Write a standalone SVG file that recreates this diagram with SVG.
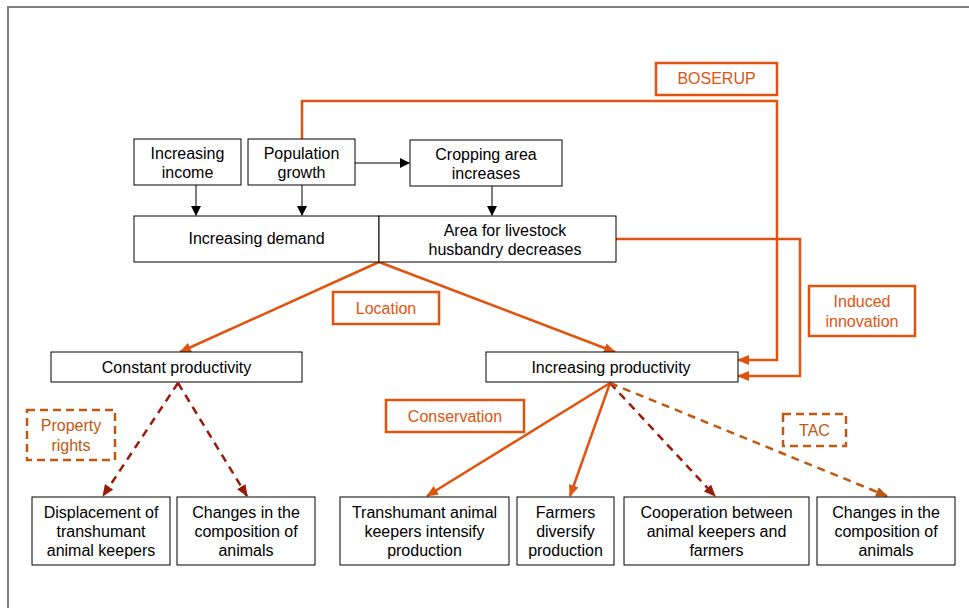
<svg xmlns="http://www.w3.org/2000/svg" width="969" height="608" viewBox="0 0 969 608">
<defs>
<style>
.box{fill:#fff;stroke:#000;stroke-width:1}
.lbl{fill:#fff;stroke:#E0540F;stroke-width:2.5}
.dlbl{fill:#fff;stroke:#C0580F;stroke-width:2.5;stroke-dasharray:8,5}
.t{font-family:"Liberation Sans",Arial,sans-serif;font-size:16px;fill:#000;text-anchor:middle}
.ot{font-family:"Liberation Sans",Arial,sans-serif;font-size:16px;fill:#E0540F;text-anchor:middle}
.dt{font-family:"Liberation Sans",Arial,sans-serif;font-size:16px;fill:#C0580F;text-anchor:middle}
.k{fill:none;stroke:#000;stroke-width:1}
.o{fill:none;stroke:#E0540F;stroke-width:2.5}
.r{fill:none;stroke:#9A1A08;stroke-width:2.5;stroke-dasharray:8,6}
.b{fill:none;stroke:#C0580F;stroke-width:2.5;stroke-dasharray:8,6}
</style>
<marker id="ak" markerUnits="userSpaceOnUse" markerWidth="10" markerHeight="10" refX="9" refY="5" orient="auto"><path d="M0,0 L10,5 L0,10 z" fill="#000"/></marker>
<marker id="ao" markerUnits="userSpaceOnUse" markerWidth="12" markerHeight="10" refX="11" refY="5" orient="auto"><path d="M0,0 L12,5 L0,10 z" fill="#E0540F"/></marker>
<marker id="ar" markerUnits="userSpaceOnUse" markerWidth="12" markerHeight="10" refX="11" refY="5" orient="auto"><path d="M0,0 L12,5 L0,10 z" fill="#9A1A08"/></marker>
<marker id="ab" markerUnits="userSpaceOnUse" markerWidth="12" markerHeight="10" refX="11" refY="5" orient="auto"><path d="M0,0 L12,5 L0,10 z" fill="#C0580F"/></marker>
</defs>
<rect width="969" height="608" fill="#fff"/>
<path d="M8,608 L8,7 L969,7" fill="none" stroke="#808080" stroke-width="2"/>

<g id="connectors">
<path class="k" d="M196,185 V215" marker-end="url(#ak)"/>
<path class="k" d="M302,185 V215" marker-end="url(#ak)"/>
<path class="k" d="M492,186 V215" marker-end="url(#ak)"/>
<path class="k" d="M355,163 H409" marker-end="url(#ak)"/>
<path class="o" d="M302,139 V101 H777 V360 H738" marker-end="url(#ao)"/>
<path class="o" d="M616,239 H800 V376 H738" marker-end="url(#ao)"/>
<path class="o" d="M379,262 L180,352" marker-end="url(#ao)"/>
<path class="o" d="M379,262 L615,352" marker-end="url(#ao)"/>
<path class="r" d="M178,383 L103,496" marker-end="url(#ar)"/>
<path class="r" d="M178,383 L247,496" marker-end="url(#ar)"/>
<path class="o" d="M610,383 L427,496" marker-end="url(#ao)"/>
<path class="o" d="M610,383 L570,496" marker-end="url(#ao)"/>
<path class="r" d="M610,383 L715,496" marker-end="url(#ar)"/>
<path class="b" d="M610,383 L887,496" marker-end="url(#ab)"/>
</g>

<g id="increasing-income"><rect class="box" x="134" y="139" width="107" height="46"/><text class="t" x="187.5" y="159">Increasing</text><text class="t" x="187.5" y="178">income</text></g>
<g id="population-growth"><rect class="box" x="248" y="139" width="107" height="46"/><text class="t" x="301.5" y="159">Population</text><text class="t" x="301.5" y="178">growth</text></g>
<g id="cropping-area"><rect class="box" x="410" y="140" width="152" height="46"/><text class="t" x="486" y="160">Cropping area</text><text class="t" x="486" y="179">increases</text></g>
<g id="increasing-demand"><rect class="box" x="134" y="216" width="245" height="46"/><text class="t" x="256.5" y="244">Increasing demand</text></g>
<g id="area-livestock"><rect class="box" x="379" y="216" width="237" height="46"/><text class="t" x="505" y="236">Area for livestock</text><text class="t" x="505" y="255">husbandry decreases</text></g>

<g id="boserup"><rect class="lbl" x="656" y="63" width="121" height="32"/><text class="ot" x="716.5" y="84">BOSERUP</text></g>
<g id="induced-innovation"><rect class="lbl" x="809" y="286" width="106" height="50"/><text class="ot" x="862" y="307">Induced</text><text class="ot" x="862" y="327">innovation</text></g>
<g id="location"><rect class="lbl" x="333" y="292" width="106" height="32"/><text class="ot" x="386" y="314">Location</text></g>
<g id="conservation"><rect class="lbl" x="386" y="400" width="138" height="32"/><text class="ot" x="455" y="422">Conservation</text></g>
<g id="property-rights"><rect class="dlbl" x="27" y="410" width="88" height="50"/><text class="dt" x="71" y="431">Property</text><text class="dt" x="71" y="451">rights</text></g>
<g id="tac"><rect class="dlbl" x="783" y="414" width="63" height="32"/><text class="dt" x="814.5" y="436">TAC</text></g>

<g id="constant-productivity"><rect class="box" x="51" y="352" width="251" height="30"/><text class="t" x="176.5" y="373">Constant productivity</text></g>
<g id="increasing-productivity"><rect class="box" x="486" y="352" width="252" height="30"/><text class="t" x="611" y="373">Increasing productivity</text></g>

<g id="displacement"><rect class="box" x="32" y="497" width="138" height="68"/><text class="t" x="101" y="518">Displacement of</text><text class="t" x="101" y="537">transhumant</text><text class="t" x="101" y="556">animal keepers</text></g>
<g id="changes-1"><rect class="box" x="177" y="497" width="138" height="68"/><text class="t" x="246" y="518">Changes in the</text><text class="t" x="246" y="537">composition of</text><text class="t" x="246" y="556">animals</text></g>
<g id="transhumant"><rect class="box" x="340" y="497" width="169" height="68"/><text class="t" x="424.5" y="518">Transhumant animal</text><text class="t" x="424.5" y="537">keepers intensify</text><text class="t" x="424.5" y="556">production</text></g>
<g id="farmers"><rect class="box" x="517" y="497" width="97" height="68"/><text class="t" x="565.5" y="518">Farmers</text><text class="t" x="565.5" y="537">diversify</text><text class="t" x="565.5" y="556">production</text></g>
<g id="cooperation"><rect class="box" x="624" y="497" width="185" height="68"/><text class="t" x="716.5" y="518">Cooperation between</text><text class="t" x="716.5" y="537">animal keepers and</text><text class="t" x="716.5" y="556">farmers</text></g>
<g id="changes-2"><rect class="box" x="817" y="497" width="138" height="68"/><text class="t" x="886" y="518">Changes in the</text><text class="t" x="886" y="537">composition of</text><text class="t" x="886" y="556">animals</text></g>
</svg>
